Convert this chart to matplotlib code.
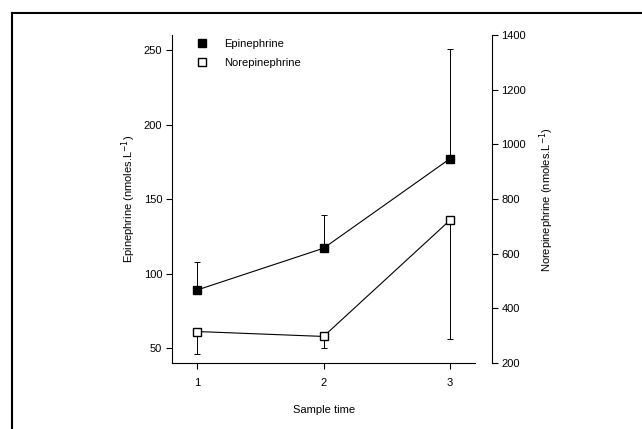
import numpy as np
import matplotlib.pyplot as plt
from matplotlib.lines import Line2D

plt.rcParams['font.family'] = ['Liberation Sans', 'DejaVu Sans']

# Dados
tempos = [1, 2, 3]
epi = [89, 117, 177]
epi_erro_sup = [19, 22, 74]
norepi = [315, 297, 722]
norepi_erro_inf = [82, 42, 434]
ticks_x = [1, 2, 3]
ticks_epi = [50, 100, 150, 200, 250]
ticks_norepi = [200, 400, 600, 800, 1000, 1200, 1400]

fig = plt.figure(figsize=(6.42, 4.29), dpi=100)
ax = fig.add_axes([0.268, 0.154, 0.472, 0.764])
ax2 = ax.twinx()

# Epinefrina (eixo esquerdo)
ax.errorbar(tempos, epi, yerr=[np.zeros(3), epi_erro_sup], color='black',
            marker='s', markersize=6, markerfacecolor='black', linewidth=0.8,
            elinewidth=0.7, capsize=2.5, capthick=0.7, zorder=3)
# Norepinefrina (eixo direito)
ax2.errorbar(tempos, norepi, yerr=[norepi_erro_inf, np.zeros(3)], color='black',
             marker='s', markersize=6, markerfacecolor='white', linewidth=0.8,
             elinewidth=0.7, capsize=2.5, capthick=0.7, zorder=3)

ax.set_xlim(0.8, 3.2)
ax.set_ylim(40, 260)
ax2.set_ylim(200, 1400)
ax.set_xticks(ticks_x)
ax.set_yticks(ticks_epi)
ax2.set_yticks(ticks_norepi)

for a in (ax, ax2):
    a.spines['top'].set_visible(False)
    a.tick_params(labelsize=8, length=4, width=0.8, pad=3)
ax.tick_params(axis='x', pad=7)
ax.spines['right'].set_visible(False)
ax2.spines['left'].set_visible(False)
ax2.spines['bottom'].set_visible(False)
ax2.spines['right'].set_position(('outward', 12))
ax2.spines['right'].set_bounds(200, 1400)
for s in ('left', 'bottom'):
    ax.spines[s].set_linewidth(0.8)
ax2.spines['right'].set_linewidth(0.8)

ax.set_xlabel('Sample time', fontsize=8, labelpad=12)
ax.set_ylabel('Epinephrine (nmoles.L$^{-1}$)', fontsize=8, labelpad=4)
ax2.set_ylabel('Norepinephrine (nmoles.L$^{-1}$)', fontsize=8, labelpad=8)

# Legenda
handles = [
    Line2D([], [], linestyle='none', marker='s', markersize=6, color='black', markerfacecolor='black'),
    Line2D([], [], linestyle='none', marker='s', markersize=6, color='black', markerfacecolor='white'),
]
ax.legend(handles, ['Epinephrine', 'Norepinephrine'], loc='upper left',
          bbox_to_anchor=(0.03, 1.018), frameon=False, fontsize=8,
          handletextpad=1.0, labelspacing=0.75)

# Moldura (apenas topo e esquerda)
fig.add_artist(Line2D([12 / 642, 1.0], [1 - 13 / 429, 1 - 13 / 429],
                      color='black', linewidth=1.5, transform=fig.transFigure))
fig.add_artist(Line2D([12 / 642, 12 / 642], [0.0, 1 - 13 / 429],
                      color='black', linewidth=1.5, transform=fig.transFigure))

plt.savefig('out.png', dpi=100)
